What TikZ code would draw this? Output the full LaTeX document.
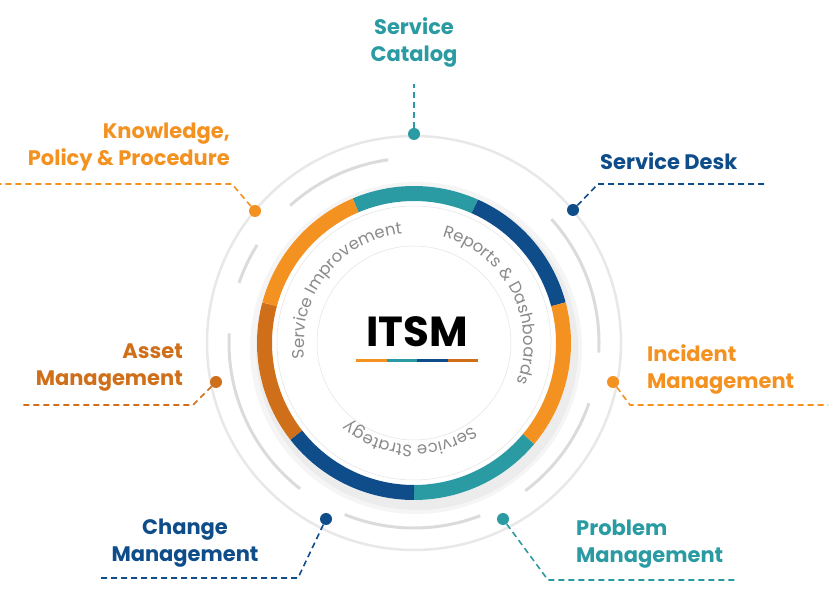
\documentclass[tikz,border=0pt]{standalone}
\usepackage{fontspec}
\setmainfont{Poppins}
\usetikzlibrary{decorations.text,calc}
\definecolor{teal1}{HTML}{2A9BA3}
\definecolor{navy1}{HTML}{0E4C8A}
\definecolor{orng}{HTML}{F39121}
\definecolor{dorng}{HTML}{D06F1A}
\definecolor{gtext}{HTML}{8A8A8A}
\newcommand\arcfont{\fontsize{16.5}{16.5}\selectfont\color{gtext}}
\tikzset{
  lbl/.style={font=\fontsize{21}{27}\selectfont\bfseries, align=#1, inner sep=0pt},
  lead/.style={dashed, dash pattern=on 6pt off 4pt, line width=1.6pt},
  dotc/.style={circle, fill=#1, minimum size=12pt, inner sep=0pt},
  seg/.style={line width=15pt, draw=#1},
}
\begin{document}
\begin{tikzpicture}[x=1pt,y=1pt]
\useasboundingbox (0,0) rectangle (829,599);
\coordinate (c) at (414,256);
% outer grey circle
\draw[gray!18, line width=2.5pt] (c) circle (207);
% mid arcs
\foreach \a/\b in {98/132,148/161,177/232,248/291,307/341,357/402}
  \draw[gray!28, line width=3pt] (c) ++(\a:185) arc (\a:\b:185);
% shadow
\fill[gray!8] ($(c)+(2,-5)$) circle (166);
\fill[gray!15] ($(c)+(3,-6)$) circle (161);
\fill[white] (c) circle (157);
% coloured ring
\foreach \a/\b/\col in {66/113/teal1, 15/66/navy1, -40/15/orng, -90/-40/teal1, -142/-90/navy1, -195/-142/dorng, -247/-195/orng}
  \draw[seg=\col] (c) ++(\a:149.5) arc (\a:\b:149.5);
% inner band outlines
\draw[gray!22, line width=0.5pt] (c) circle (137);
\draw[gray!22, line width=0.5pt] (c) circle (97);
% arc texts
\path[decorate, decoration={text along path, text align=center,
  text={|\arcfont|Service Improvement}}]
  (c) ++(232:110) arc (232:52:110);
\path[decorate, decoration={text along path, text align=center,
  text={|\arcfont|Reports {\&} Dashboards}}]
  (c) ++(117:110) arc (117:-63:110);
\path[decorate, decoration={text along path, text align=center,
  text={|\arcfont|Service Strategy}}]
  (c) ++(0:102) arc (0:-185:102);
% ITSM
\node[font=\fontsize{42}{42}\selectfont\bfseries, inner sep=0pt] (itsm) at (417,267) {ITSM};
\foreach \x/\col in {356/orng,386.5/teal1,417/navy1,447.5/dorng}
  \fill[\col] (\x,237) rectangle ++(30.5,3);
% dots
\node[dotc=teal1] (d1) at (414,465) {};
\node[dotc=navy1] (d2) at (573,389) {};
\node[dotc=orng] (d3) at (613,217) {};
\node[dotc=teal1] (d4) at (503,80) {};
\node[dotc=navy1] (d5) at (326,80) {};
\node[dotc=dorng] (d6) at (216,217) {};
\node[dotc=orng] (d7) at (255,388) {};
% labels
\node[lbl=center, text=teal1] (t1) at (414,557) {Service\\Catalog};
\node[lbl=left, text=navy1, anchor=west] (t2) at (600,438) {Service Desk};
\node[lbl=left, text=orng, anchor=west] (t3) at (647,230) {Incident\\Management};
\node[lbl=left, text=teal1, anchor=west] (t4) at (576,55) {Problem\\Management};
\node[lbl=center, text=navy1] (t5) at (185,56) {Change\\Management};
\node[lbl=right, text=dorng, anchor=east] (t6) at (183,231) {Asset\\Management};
\node[lbl=right, text=orng, anchor=east] (t7) at (230,452) {Knowledge,\\Policy \& Procedure};
% leaders
\coordinate (e1) at (414,515);
\draw[lead, teal1] (d1) -- (e1);
\coordinate (a2) at (598,415); \coordinate (b2) at (765,415);
\draw[lead, navy1] (d2) -- (a2) -- (b2);
\coordinate (a3) at (630,194); \coordinate (b3) at (828,194);
\draw[lead, orng] (d3) -- (a3) -- (b3);
\coordinate (a4) at (548,19); \coordinate (b4) at (735,19);
\draw[lead, teal1] (d4) -- (a4) -- (b4);
\coordinate (a5) at (298,21); \coordinate (b5) at (100,21);
\draw[lead, navy1] (d5) -- (a5) -- (b5);
\coordinate (a6) at (193,194); \coordinate (b6) at (20,194);
\draw[lead, dorng] (d6) -- (a6) -- (b6);
\coordinate (a7) at (232,415); \coordinate (b7) at (0,415);
\draw[lead, orng] (d7) -- (a7) -- (b7);
\end{tikzpicture}
\end{document}
